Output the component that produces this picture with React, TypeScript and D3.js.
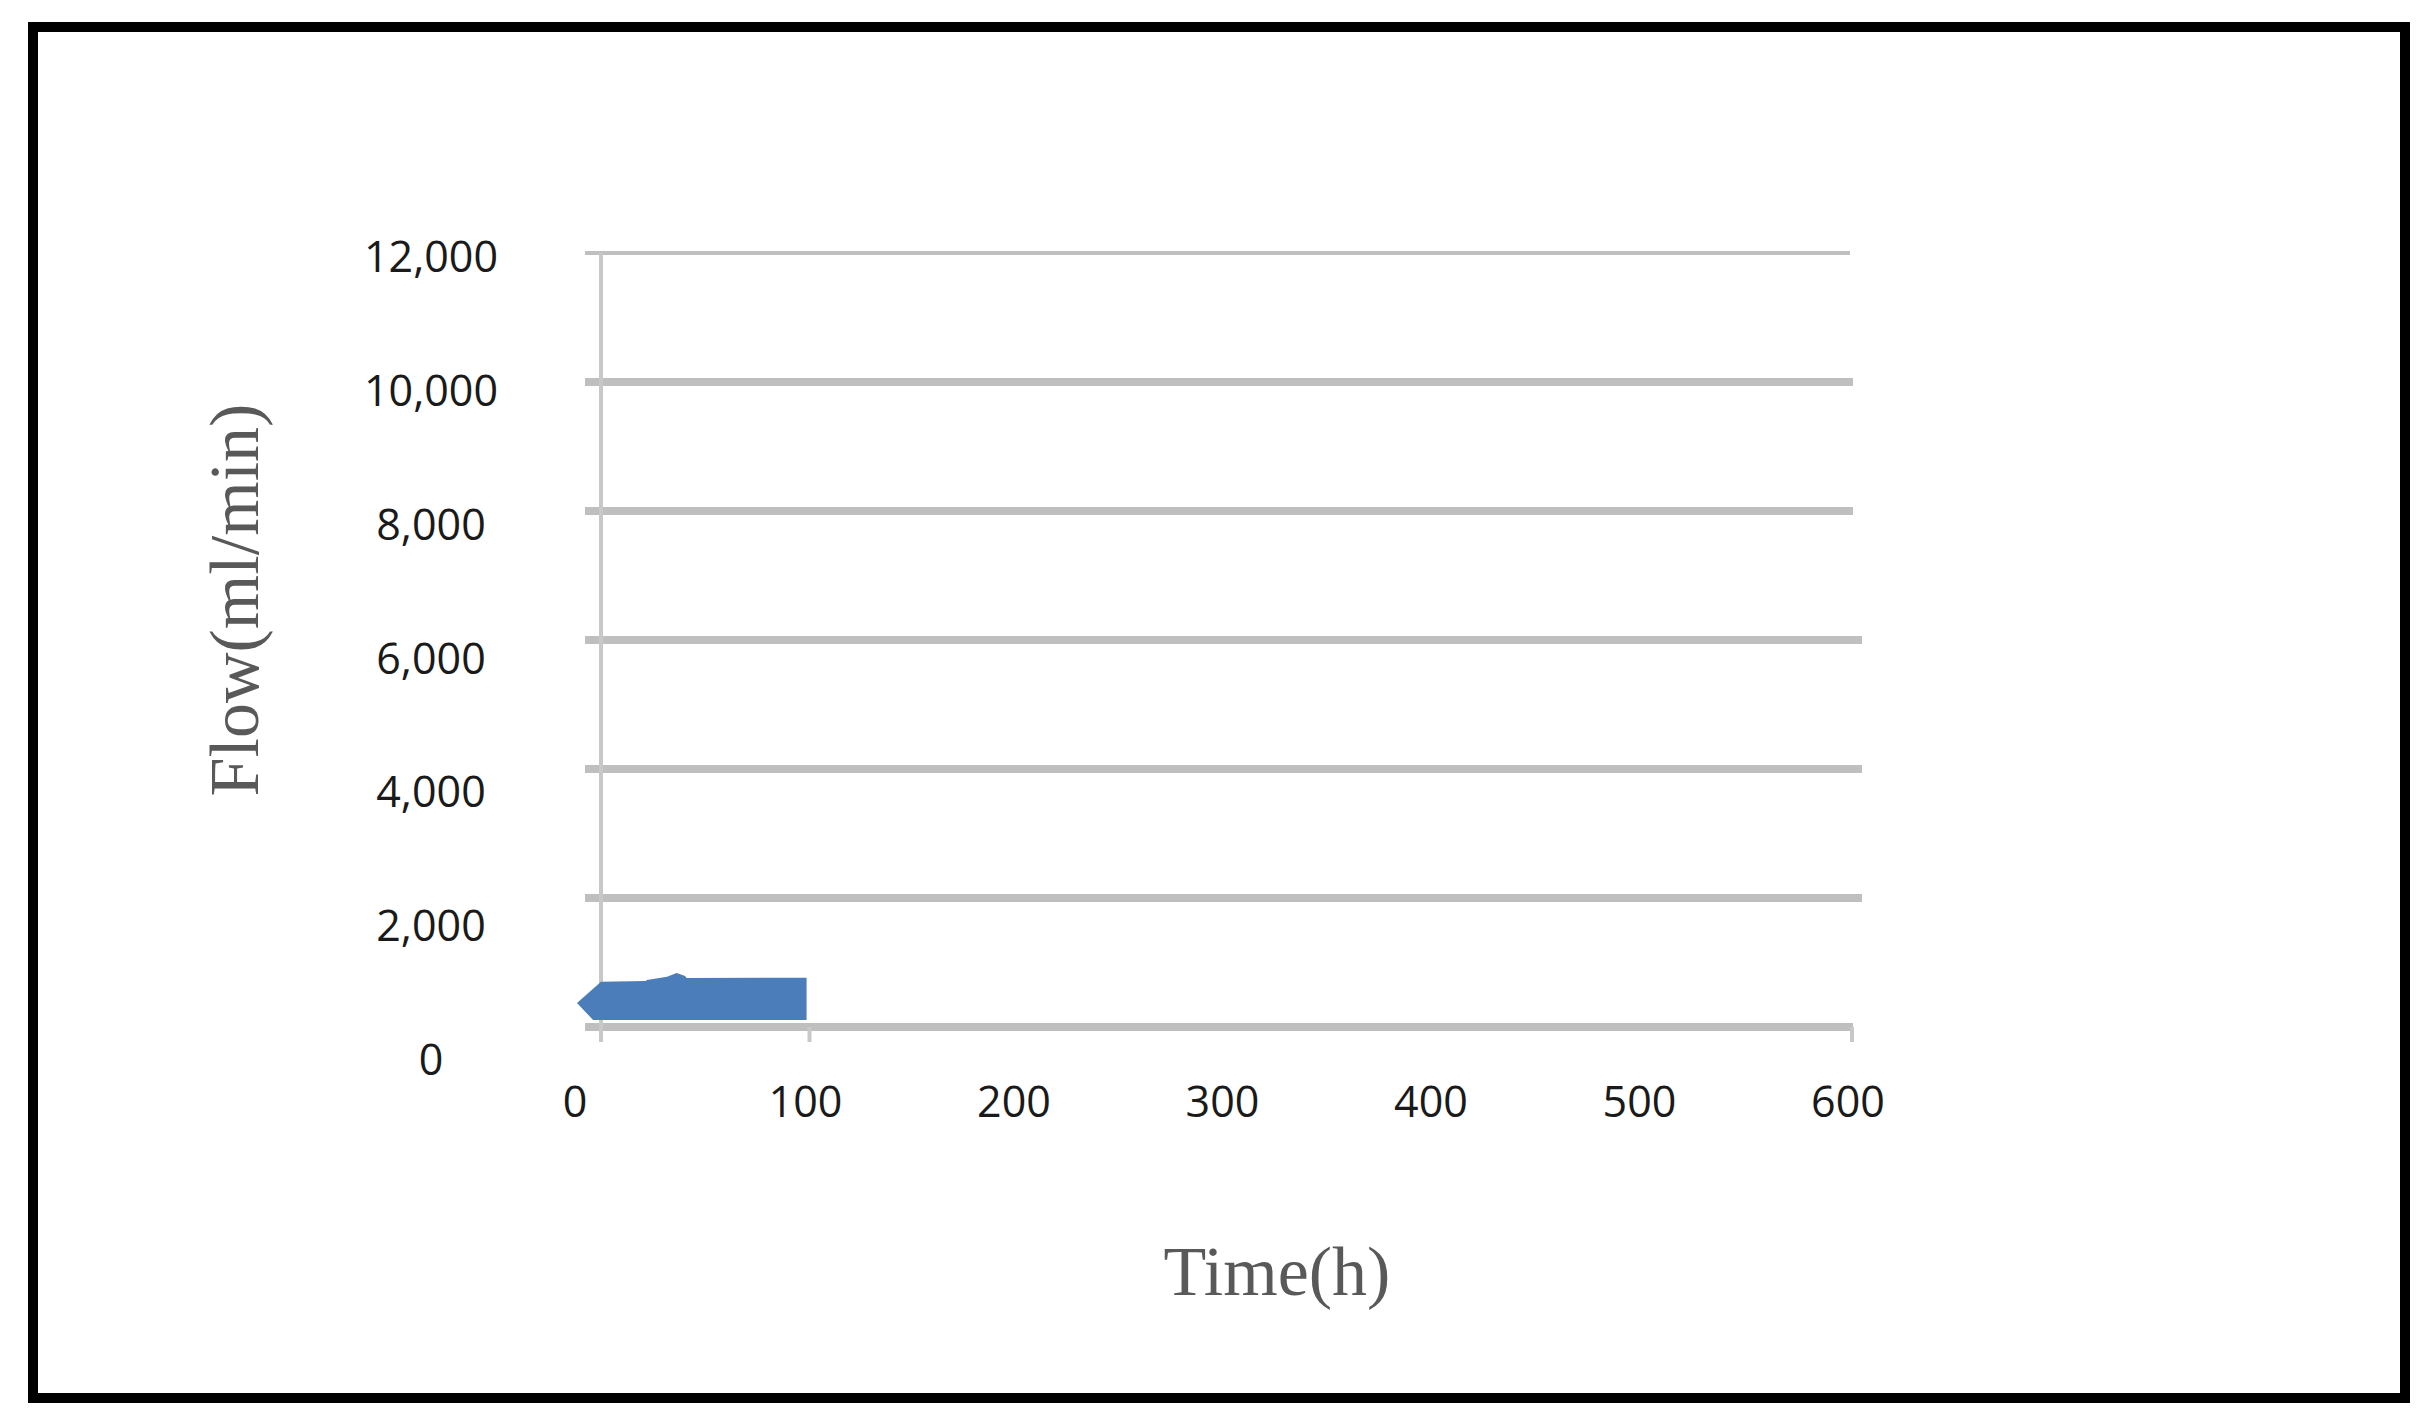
import React from "react";
import * as d3 from "d3";

// ---- data ----
const timeH = [-11.5, -3.8, 0, 21.5, 22, 23.5, 31.7, 36.3, 40.3, 41.1, 98.6];
const flowUpper = [372, 593, 702, 712, 730, 735, 780, 837, 791, 760, 764];
const flowLower = [372, 108, 108, 108, 108, 108, 108, 108, 108, 108, 108];
const yTicks = [0, 2000, 4000, 6000, 8000, 10000, 12000];
const xTicks = [0, 100, 200, 300, 400, 500, 600];
const xTickMarks = [0, 100, 600];
const xTitle = "Time(h)";
const yTitle = "Flow(ml/min)";

const W = 2427;
const H = 1423;

export default function App() {
  const x = d3.scaleLinear().domain([0, 600]).range([601, 1852]);
  const y = d3.scaleLinear().domain([0, 12000]).range([1027, 253]);
  // tick labels in the picture sit on a slightly wider spacing than the grid
  const yLab = d3.scaleLinear().domain([0, 12000]).range([1060, 257]);
  const fmt = d3.format(",");

  const pts = timeH.map((t, i) => ({ t, hi: flowUpper[i], lo: flowLower[i] }));
  const area = d3
    .area<{ t: number; hi: number; lo: number }>()
    .x((d) => x(d.t))
    .y0((d) => y(d.lo))
    .y1((d) => y(d.hi))
    .curve(d3.curveLinear);

  const grid = "#bfbfbf";

  return (
    <svg
      width={W}
      height={H}
      style={{ position: "absolute", left: 0, top: 0, background: "#fff" }}
    >
      <rect x={0} y={0} width={W} height={H} fill="#fff" />
      {/* outer frame */}
      <rect
        x={33}
        y={27}
        width={2372}
        height={1371}
        fill="none"
        stroke="#000"
        strokeWidth={10}
      />

      {/* gridlines */}
      {yTicks.map((v) => (
        <line
          key={"g" + v}
          x1={585}
          x2={v >= 2000 && v <= 6000 ? 1862 : v === 12000 ? 1850 : 1853}
          y1={y(v)}
          y2={y(v)}
          stroke={grid}
          strokeWidth={v === 12000 ? 4 : 8}
        />
      ))}

      {/* y axis */}
      <line x1={x(0)} x2={x(0)} y1={y(12000)} y2={1042} stroke="#c8c8c8" strokeWidth={4} />

      {/* x tick marks */}
      {xTickMarks.map((v) => (
        <line
          key={"t" + v}
          x1={x(v)}
          x2={x(v)}
          y1={y(0)}
          y2={1042}
          stroke="#c8c8c8"
          strokeWidth={4}
        />
      ))}

      {/* area */}
      <path d={area(pts) || ""} fill="#4a7dba" />

      {/* y tick labels */}
      {yTicks.map((v) => (
        <text
          key={"yl" + v}
          x={431}
          y={yLab(v) + 15}
          textAnchor="middle"
          fontFamily="'Open Sans', sans-serif"
          fontSize={43}
          fill="#1a1a1a"
        >
          {fmt(v)}
        </text>
      ))}

      {/* x tick labels */}
      {xTicks.map((v) => (
        <text
          key={"xl" + v}
          x={x(v) - (v === 0 ? 26 : 4)}
          y={1117}
          textAnchor="middle"
          fontFamily="'Open Sans', sans-serif"
          fontSize={43}
          fill="#1a1a1a"
        >
          {v}
        </text>
      ))}

      {/* axis titles */}
      <text
        x={1277}
        y={1295}
        textAnchor="middle"
        fontFamily="'Liberation Serif', 'Times New Roman', serif"
        fontSize={70}
        fill="#595959"
      >
        {xTitle}
      </text>
      <text
        transform="translate(258,600) rotate(-90)"
        textAnchor="middle"
        fontFamily="'Liberation Serif', 'Times New Roman', serif"
        fontSize={70}
        fill="#595959"
      >
        {yTitle}
      </text>
    </svg>
  );
}
